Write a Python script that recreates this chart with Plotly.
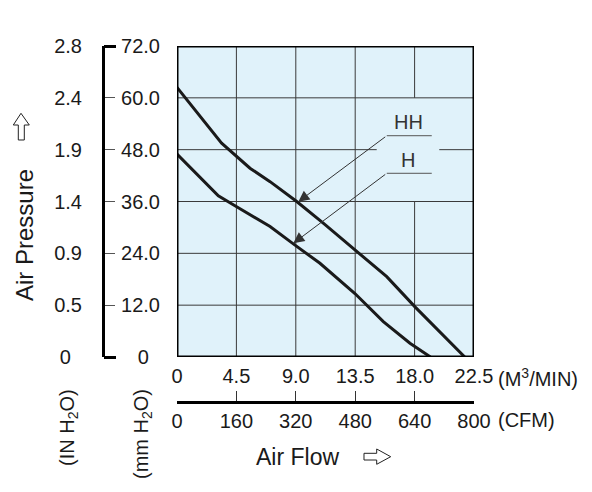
import plotly.graph_objects as go

W, H = 592, 492

# ---------------- data ----------------
flow_ticks = [0, 4.5, 9.0, 13.5, 18.0, 22.5]
flow_text = ['0', '4.5', '9.0', '13.5', '18.0', '22.5']
cfm_ticks = [0, 160, 320, 480, 640, 800]
cfm_text = ['0', '160', '320', '480', '640', '800']
mm_ticks = [0, 12, 24, 36, 48, 60, 72]
mm_text = ['0', '12.0', '24.0', '36.0', '48.0', '60.0', '72.0']
in_text = ['0', '0.5', '0.9', '1.4', '1.9', '2.4', '2.8']

hh_flow = [0, 3.38, 5.53, 7.05, 9.07, 11.08, 13.48, 15.89, 18.03, 21.8]
hh_pres = [62.4, 49.5, 43.7, 40.6, 36.0, 31.0, 24.8, 18.6, 11.6, 0]
h_flow = [0, 3.13, 4.52, 7.05, 8.94, 10.83, 13.48, 15.63, 17.65, 19.04, 19.2]
h_pres = [47.0, 37.3, 34.8, 30.2, 25.9, 21.7, 14.7, 8.2, 3.2, 0.5, 0]

# ---------------- helpers ----------------
def fx(px):
    return px / W

def fy(py):
    return 1 - py / H

FONT = 'Liberation Sans, Arial, sans-serif'
NB = '\u00a0'

fig = go.Figure()
fig.add_trace(go.Scatter(x=hh_flow, y=hh_pres, mode='lines',
                         line=dict(color='#1a1a1a', width=3), hoverinfo='skip'))
fig.add_trace(go.Scatter(x=h_flow, y=h_pres, mode='lines',
                         line=dict(color='#1a1a1a', width=3), hoverinfo='skip'))

# dummy invisible traces so that the extra axes are drawn
for xa, ya in [('x2', 'y'), ('x3', 'y'), ('x', 'y2'), ('x', 'y3'), ('x', 'y4'), ('x', 'y5')]:
    fig.add_trace(go.Scatter(x=[None], y=[None], xaxis=xa, yaxis=ya, mode='markers',
                             marker=dict(opacity=0), hoverinfo='skip', showlegend=False))

shapes = []
GRID = dict(color='#3a3a3a', width=1)
for v in flow_ticks[1:-1]:
    segs = [(0, 72)] if v != 18.0 else [(0, 36), (60, 72)]
    for a, b in segs:
        shapes.append(dict(type='line', xref='x', yref='y', x0=v, x1=v, y0=a, y1=b,
                           line=GRID, layer='below'))
for v in mm_ticks[1:-1]:
    segs = [(0, 22.5)] if v != 48 else [(0, 15.13), (19.87, 22.5)]
    for a, b in segs:
        shapes.append(dict(type='line', xref='x', yref='y', x0=a, x1=b, y0=v, y1=v,
                           line=GRID, layer='below'))
shapes.append(dict(type='rect', xref='x', yref='y', x0=0, x1=22.5, y0=0, y1=72,
                   line=dict(color='black', width=3)))
shapes.append(dict(type='line', xref='x', yref='y', x0=15.89, x1=19.30, y0=51.23, y1=51.23,
                   line=dict(color='#555', width=1)))
shapes.append(dict(type='line', xref='x', yref='y', x0=15.89, x1=19.30, y0=42.53, y1=42.53,
                   line=dict(color='#555', width=1)))

def path(pts):
    return 'M ' + ' L '.join(f'{fx(a):.5f},{fy(b):.5f}' for a, b in pts) + ' Z'

right_arrow = [(364, 453.3), (376.7, 453.3), (376.7, 449), (390.7, 456.7),
               (376.7, 464.3), (376.7, 460), (364, 460)]
up_arrow = [(18.3, 140), (18.3, 125), (13.3, 125), (21, 113.3),
            (29.3, 125), (24.3, 125), (24.3, 140)]
for pts in (right_arrow, up_arrow):
    shapes.append(dict(type='path', xref='paper', yref='paper', path=path(pts),
                       line=dict(color='#222', width=1), fillcolor='white'))

ann = []
def ptext(text, px, py, size=20, angle=0):
    ann.append(dict(text=text, x=fx(px), y=fy(py), xref='paper', yref='paper',
                    showarrow=False, xanchor='center', yanchor='middle', textangle=angle,
                    font=dict(size=size, color='#1a1a1a', family=FONT)))

ptext('Air Pressure', 24, 235, size=24, angle=-90)
ptext('(IN H<sub>2</sub>O)', 68, 428, size=20, angle=-90)
ptext('(mm H<sub>2</sub>O)', 142, 434, size=20, angle=-90)
ptext('Air Flow', 297.5, 457, size=23)
ann.append(dict(text='(M<sup>3</sup>/MIN)', x=fx(496), y=fy(377), xref='paper', yref='paper',
                showarrow=False, xanchor='left', yanchor='middle',
                font=dict(size=20, color='#1a1a1a', family=FONT)))
ann.append(dict(text='(CFM)', x=fx(496), y=fy(420), xref='paper', yref='paper',
                showarrow=False, xanchor='left', yanchor='middle',
                font=dict(size=20, color='#1a1a1a', family=FONT)))

ann.append(dict(text='HH', x=17.5, y=54.47, xref='x', yref='y', showarrow=False,
                font=dict(size=20, color='#333', family=FONT)))
ann.append(dict(text='H', x=17.52, y=45.7, xref='x', yref='y', showarrow=False,
                font=dict(size=20, color='#333', family=FONT)))
for tip, tail in [((9.19, 35.95), (15.89, 51.23)), ((8.81, 26.32), (15.89, 42.53))]:
    ann.append(dict(text='', x=tip[0], y=tip[1], ax=tail[0], ay=tail[1],
                    xref='x', yref='y', axref='x', ayref='y', showarrow=True,
                    arrowhead=2, arrowsize=2.2, arrowwidth=1, arrowcolor='#333',
                    standoff=0, startstandoff=0))

tickfont = dict(size=20, color='#1a1a1a', family=FONT)
common = dict(showgrid=False, zeroline=False, fixedrange=True, automargin=False)

fig.update_layout(
    width=W, height=H, margin=dict(l=0, r=0, t=0, b=0, pad=0, autoexpand=False),
    paper_bgcolor='white', plot_bgcolor='#E0F2FA', showlegend=False,
    font=dict(family=FONT, size=20, color='#1a1a1a'),
    shapes=shapes, annotations=ann,
    xaxis=dict(domain=[fx(177), fx(474)], range=[0, 22.5], tickvals=flow_ticks,
               ticktext=flow_text, ticks='outside', ticklen=1, tickcolor='rgba(0,0,0,0)',
               showline=False, tickfont=tickfont, **common),
    xaxis2=dict(overlaying='x', anchor='free', position=fy(401.7), side='bottom',
                range=[0, 800], tickvals=cfm_ticks, ticktext=cfm_text, ticks='inside',
                ticklen=10, tickwidth=1, tickcolor='#333', showline=True, linewidth=3,
                linecolor='black', tickfont=tickfont, **common),
    xaxis3=dict(overlaying='x', anchor='free', position=fy(401.7), side='bottom',
                range=[0, 800], tickvals=[cfm_ticks[0], cfm_ticks[-1]], ticks='inside',
                ticklen=10, tickwidth=3, tickcolor='black', showline=False,
                showticklabels=False, **common),
    yaxis=dict(domain=[fy(357), fy(46)], range=[0, 72], showticklabels=False,
               showline=False, ticks='', **common),
    yaxis2=dict(overlaying='y', anchor='free', position=fx(160), side='left',
                range=[0, 72], tickvals=mm_ticks,
                ticktext=[t + NB * 2 if t == '0' else t for t in mm_text],
                ticks='', showline=False, tickfont=tickfont, **common),
    yaxis3=dict(overlaying='y', anchor='free', position=fx(103.3), side='right',
                range=[0, 72], tickvals=mm_ticks[1:-1], ticks='outside', ticklen=10,
                tickwidth=1, tickcolor='#555', showline=True, linewidth=3, linecolor='black',
                showticklabels=False, **common),
    yaxis4=dict(overlaying='y', anchor='free', position=fx(103.3), side='right',
                range=[0, 72], tickvals=[mm_ticks[0], mm_ticks[-1]], ticks='outside',
                ticklen=12, tickwidth=3, tickcolor='black', showline=False,
                showticklabels=False, **common),
    yaxis5=dict(overlaying='y', anchor='free', position=fx(82), side='left',
                range=[0, 72], tickvals=mm_ticks,
                ticktext=[t + NB * 2 if t == '0' else t for t in in_text],
                ticks='', showline=False, tickfont=tickfont, **common),
)

fig.write_html('out.html')
